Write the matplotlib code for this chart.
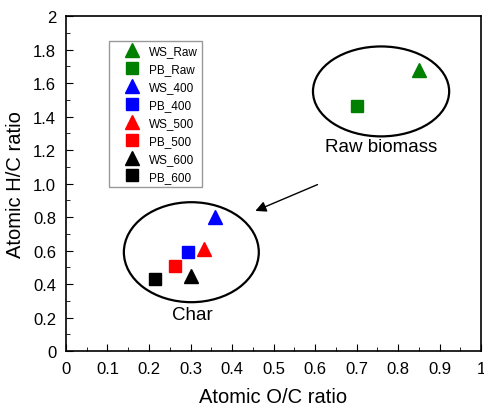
import matplotlib
matplotlib.use("Agg")
from matplotlib import pyplot as plt
from matplotlib.patches import Ellipse
import numpy as np

plt.rcParams["font.family"] = ["Liberation Sans", "DejaVu Sans"]

labels = ["WS_Raw", "PB_Raw", "WS_400", "PB_400", "WS_500", "PB_500", "WS_600", "PB_600"]
oc_ratio = [0.85, 0.70, 0.36, 0.295, 0.333, 0.263, 0.30, 0.214]
hc_ratio = [1.68, 1.46, 0.80, 0.59, 0.61, 0.51, 0.45, 0.43]
markers = ["^", "s", "^", "s", "^", "s", "^", "s"]
colors = ["#008000", "#008000", "#0000ff", "#0000ff", "#ff0000", "#ff0000", "#000000", "#000000"]
x_ticklabels = ["0", "0.1", "0.2", "0.3", "0.4", "0.5", "0.6", "0.7", "0.8", "0.9", "1"]
y_ticklabels = ["0", "0.2", "0.4", "0.6", "0.8", "1.0", "1.2", "1.4", "1.6", "1.8", "2"]

fig = plt.figure(figsize=(4.85, 4.06), dpi=100)
ax = fig.add_axes([0.136, 0.133, 0.856, 0.825])

for lab, x, y, m, c in zip(labels, oc_ratio, hc_ratio, markers, colors):
    size = 10 if m == "^" else 8.5
    ax.plot(x, y, linestyle="none", marker=m, color=c, markersize=size, label=lab)

# groups
ax.add_patch(Ellipse((0.759, 1.55), 0.328, 0.537, fill=False, lw=1.6, ec="black"))
ax.add_patch(Ellipse((0.302, 0.59), 0.325, 0.597, fill=False, lw=1.6, ec="black"))
ax.text(0.759, 1.22, "Raw biomass", ha="center", va="center", fontsize=13.5)
ax.text(0.304, 0.22, "Char", ha="center", va="center", fontsize=13.5)
ax.annotate("", xy=(0.45, 0.83), xytext=(0.612, 1.0),
            arrowprops=dict(arrowstyle="-|>", color="black", lw=1.0, mutation_scale=16))

ax.set_xlim(0, 1)
ax.set_ylim(0, 2)
ax.set_xticks(np.linspace(0, 1, 11))
ax.set_xticks(np.linspace(0.05, 0.95, 10), minor=True)
ax.set_yticks(np.linspace(0, 2, 11))
ax.set_yticks(np.linspace(0.1, 1.9, 10), minor=True)
ax.set_xticklabels(x_ticklabels)
ax.set_yticklabels(y_ticklabels)
ax.tick_params(which="both", direction="in", top=False, right=False, labelsize=12, pad=7)
ax.tick_params(which="major", length=5)
ax.tick_params(which="minor", length=3)
for s in ax.spines.values():
    s.set_linewidth(1.2)

ax.set_xlabel("Atomic O/C ratio", fontsize=14.5, labelpad=8)
ax.set_ylabel("Atomic H/C ratio", fontsize=14.5, labelpad=6)

leg = ax.legend(loc="upper left", bbox_to_anchor=(0.104, 0.925), fontsize=8.5, frameon=True,
                fancybox=False, edgecolor="gray", handletextpad=-0.2, labelspacing=0.5,
                borderpad=0.35, handlelength=3.2, markerscale=1.0, borderaxespad=0)
leg.get_frame().set_linewidth(1.0)

fig.savefig("out.png", dpi=100)
